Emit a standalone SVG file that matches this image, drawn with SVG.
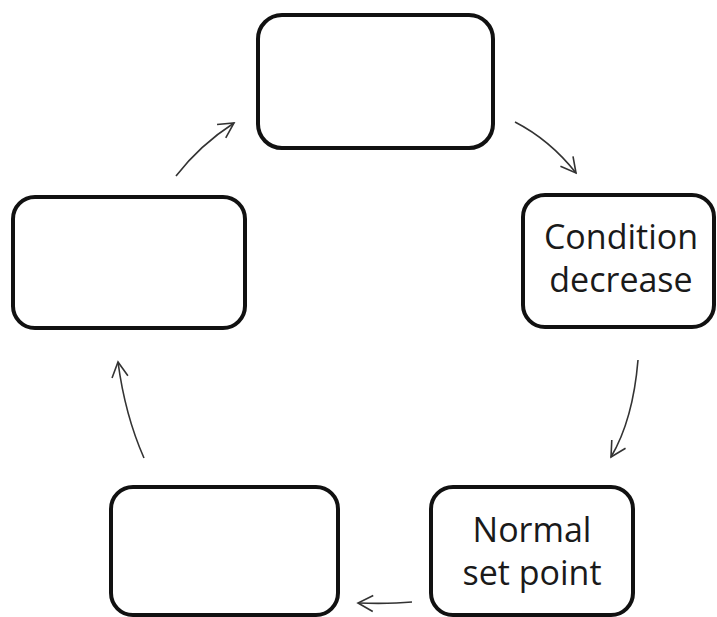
<svg xmlns="http://www.w3.org/2000/svg" width="717" height="617" viewBox="0 0 717 617">
<style>
.box{fill:#fff;stroke:#111;stroke-width:4}
.lbl{font-family:"Open Sans","Liberation Sans",sans-serif;font-size:34px;fill:#1a1a1a;text-anchor:middle}
.arr{fill:none;stroke:#333;stroke-width:1.6;marker-end:url(#ah)}
</style>
<defs>
<marker id="ah" viewBox="0 0 20 20" refX="18" refY="10" markerWidth="20" markerHeight="20" markerUnits="userSpaceOnUse" orient="auto">
<path d="M3,2 L18,10 L3,18" fill="none" stroke="#333" stroke-width="1.6"/>
</marker>
</defs>
<rect width="717" height="617" fill="#fff"/>
<g id="node-top"><rect class="box" x="258" y="15" width="235" height="133" rx="24"/></g>
<g id="node-condition"><rect class="box" x="523" y="195" width="191" height="132" rx="22"/>
<text class="lbl" x="621" y="249">Condition</text><text class="lbl" x="621" y="292">decrease</text></g>
<g id="node-normal"><rect class="box" x="431" y="487" width="202" height="128" rx="22"/>
<text class="lbl" x="532" y="542">Normal</text><text class="lbl" x="532" y="585">set point</text></g>
<g id="node-bottomleft"><rect class="box" x="111" y="487" width="227" height="128" rx="22"/></g>
<g id="node-left"><rect class="box" x="13" y="197" width="232" height="131" rx="22"/></g>
<g id="connectors">
<path class="arr" d="M176,176 Q200,145 234,123"/>
<path class="arr" d="M515,122 Q550,140 576,173"/>
<path class="arr" d="M638,360 Q633,420 611,457"/>
<path class="arr" d="M412,602 Q390,604 358,603"/>
<path class="arr" d="M144,458 Q125,415 118,362"/>
</g>
</svg>
